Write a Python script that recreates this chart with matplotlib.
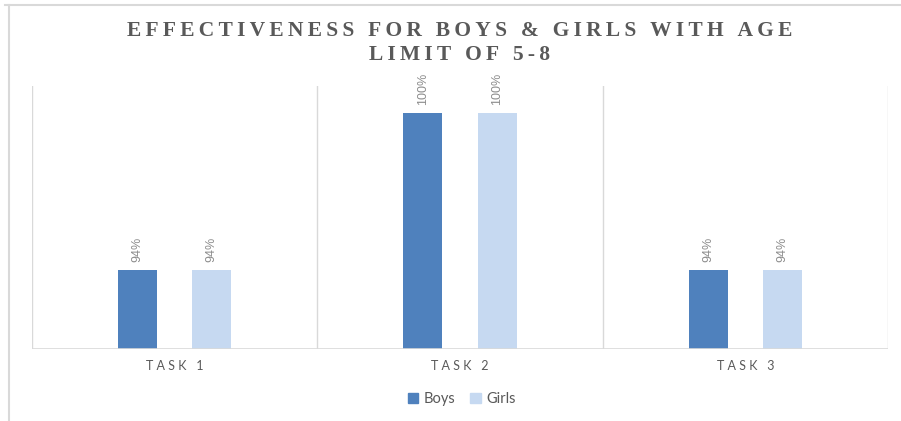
import numpy as np
import matplotlib.pyplot as plt
from matplotlib.lines import Line2D

categories = ['TASK 1', 'TASK 2', 'TASK 3']
boys = [94, 100, 94]
girls = [94, 100, 94]
series_names = ['Boys', 'Girls']
title_lines = ['EFFECTIVENESS FOR BOYS & GIRLS WITH AGE', 'LIMIT OF 5-8']

c_boys = '#4F81BD'
c_girls = '#C6D9F1'
grid_c = '#D9D9D9'
text_c = '#595959'


def spaced(s, sep='\u2009'):
    return sep.join(s)


fig = plt.figure(figsize=(9.01, 4.21), dpi=100)
ax = fig.add_axes([32 / 901, 72 / 421, 856 / 901, 263 / 421])

x = np.arange(len(categories))
w = 0.137
off = 0.13
b1 = ax.bar(x - off, boys, w, color=c_boys, zorder=3)
b2 = ax.bar(x + off, girls, w, color=c_girls, zorder=3)

ax.set_xlim(-0.5, len(categories) - 0.5)
ax.set_ylim(91, 101.03)

for bars, vals in [(b1, boys), (b2, girls)]:
    for b, v in zip(bars, vals):
        ax.annotate('%d%%' % v, (b.get_x() + b.get_width() / 2, b.get_height()),
                    xytext=(0, 6), textcoords='offset points', rotation=90,
                    ha='center', va='bottom', fontsize=9, color='#8C8C8C',
                    family=['Liberation Sans', 'DejaVu Sans'])

# category separators
for xv in np.arange(-0.5, len(categories), 1.0):
    ax.axvline(xv, color=grid_c, lw=1, zorder=1)

for s in ax.spines.values():
    s.set_visible(False)
ax.axhline(91, color=grid_c, lw=1.2, zorder=4)
ax.set_yticks([])
ax.set_xticks(x)
ax.set_xticklabels([spaced(c, ' ') for c in categories], fontsize=9,
                   color=text_c, family=['Lato', 'DejaVu Sans'])
ax.tick_params(axis='x', length=0, pad=8)

for i, line in enumerate(title_lines):
    fig.text(460 / 901, 1 - (31 + 24 * i) / 421, spaced(line), ha='center', va='center',
             fontsize=15.5, fontweight='bold', color=text_c,
             family=['Liberation Serif', 'DejaVu Serif'])

handles = [plt.Rectangle((0, 0), 1, 1, color=c_boys), plt.Rectangle((0, 0), 1, 1, color=c_girls)]
fig.legend(handles, series_names, loc='center', bbox_to_anchor=(462 / 901, 1 - 399 / 421),
           ncol=2, frameon=False, handlelength=0.7, handleheight=0.7,
           handletextpad=0.4, columnspacing=1.0,
           prop={'family': ['Lato', 'DejaVu Sans'], 'size': 10.5},
           labelcolor=text_c)

# outer chart border
fig.add_artist(Line2D([5 / 901, 1], [1 - 5 / 421] * 2, color=grid_c, lw=1.5, transform=fig.transFigure))
fig.add_artist(Line2D([9 / 901] * 2, [0, 1 - 5 / 421], color=grid_c, lw=1.5, transform=fig.transFigure))

fig.savefig('out.png', dpi=100)
